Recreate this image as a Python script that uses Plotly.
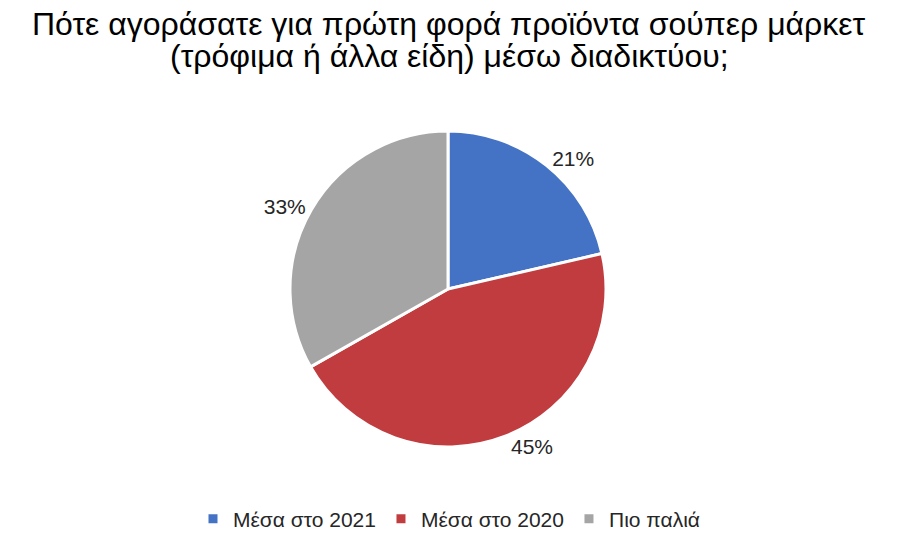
import plotly.graph_objects as go

categories = ["Μέσα στο 2021", "Μέσα στο 2020", "Πιο παλιά"]
values = [21.4, 45.4, 33.2]
colors = ["#4472C4", "#C03C3E", "#A5A5A5"]
title_lines = [
    "Πότε αγοράσατε για πρώτη φορά προϊόντα σούπερ μάρκετ",
    "(τρόφιμα ή άλλα είδη) μέσω διαδικτύου;",
]

W, H = 900, 542
cx, cy, R = 440, 281, 158  # pie centre / radius in figure pixels

fig = go.Figure(go.Pie(
    labels=categories,
    values=values,
    sort=False,
    direction="clockwise",
    rotation=0,
    domain=dict(x=[(cx - 230) / W, (cx + 230) / W], y=[(H - cy - R) / H, (H - cy + R) / H]),
    marker=dict(colors=colors, line=dict(color="white", width=3)),
    texttemplate="%{percent:.0%}",
    textposition="outside",
    textfont=dict(family="Liberation Sans, Arial, sans-serif", size=21, color="#262626"),
    hoverinfo="label+percent",
))

title_font = dict(family="Liberation Sans, Arial, sans-serif", size=32, color="black")
for i, line in enumerate(title_lines):
    fig.add_annotation(
        text=line, xref="paper", yref="paper", x=441 / W, xanchor="center",
        y=1 - (16 + 32 * i) / H, yanchor="middle", showarrow=False, font=title_font,
    )

fig.update_layout(
    width=W, height=H,
    paper_bgcolor="white",
    margin=dict(l=0, r=0, t=0, b=0),
    legend=dict(
        orientation="h", x=441 / W, xanchor="center", y=(H - 511) / H, yanchor="middle",
        font=dict(family="Liberation Sans, Arial, sans-serif", size=21, color="#262626"),
        itemwidth=30,
    ),
)

fig.write_html("out.html")
